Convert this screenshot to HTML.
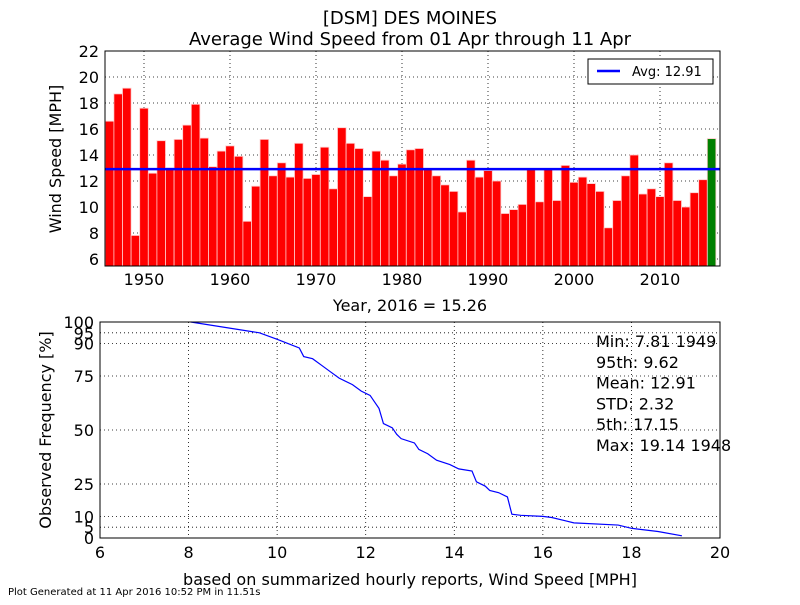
<!DOCTYPE html>
<html><head><meta charset="utf-8"><style>
body{margin:0;background:#fff;}
svg{font-family:"DejaVu Sans","Liberation Sans",sans-serif;}
</style></head><body>
<svg id="s" width="800" height="600" viewBox="0 0 800 600">
<text x="410" y="24" font-size="18" text-anchor="middle">[DSM] DES MOINES</text>
<text x="410" y="45" font-size="18" text-anchor="middle">Average Wind Speed from 01 Apr through 11 Apr</text>
<g id="top"></g><g id="bot"></g>
<text x="8" y="595" font-size="10">Plot Generated at 11 Apr 2016 10:52 PM in 11.51s</text>
</svg>
<script>
const years=[];for(let y=1946;y<=2016;y++)years.push(y);
const speeds=[16.6,18.7,19.14,7.81,17.6,12.6,15.1,13.0,15.2,16.3,17.9,15.3,13.1,14.3,14.7,13.9,8.9,11.6,15.2,12.4,13.4,12.3,14.9,12.2,12.5,14.6,11.4,16.1,14.9,14.5,10.8,14.3,13.6,12.4,13.3,14.4,14.5,12.9,12.4,11.7,11.2,9.62,13.6,12.3,12.8,12.0,9.5,9.8,10.2,12.9,10.4,12.9,10.5,13.2,11.9,12.3,11.8,11.2,8.4,10.5,12.4,14.0,11.0,11.4,10.8,13.4,10.5,10.0,11.1,12.1,15.26];
const avg=12.91;
const yTicks=[6,8,10,12,14,16,18,20,22];
const xTicks=[1950,1960,1970,1980,1990,2000,2010];
const cdfSpeed=[8.05,9.6,10,10.5,10.6,10.8,11,11.2,11.4,11.7,11.9,12.1,12.2,12.3,12.4,12.6,12.7,12.8,13.1,13.2,13.4,13.6,13.9,14.1,14.4,14.5,14.7,14.8,15,15.2,15.3,15.5,16,16.2,16.5,16.7,17.7,18,18.6,19.14];
const cdfFreq=[100,95,92,88,84,83,80,77,74,71,68,66,63,60,53,51,48,46,44,41,39,36,34,32,31,26,24,22,21,19,11,10.5,10,9.5,8,7,6,4.5,3,1];
const fTicks=[0,5,10,25,50,75,90,95,100];
const sTicks=[6,8,10,12,14,16,18,20];
const stats=["Min: 7.81 1949","95th: 9.62","Mean: 12.91","STD: 2.32","5th: 17.15","Max: 19.14 1948"];
const NS="http://www.w3.org/2000/svg";
function mk(p,t,a){const e=document.createElementNS(NS,t);for(const k in a)e.setAttribute(k,a[k]);p.appendChild(e);return e;}
// top chart
const T=document.getElementById('top');
const L=105,R=720,TT=51,TB=266;
const xs=y=>144+(y-1950)*8.6, ys=v=>259-(v-6)*13;
xTicks.forEach(t=>{const g=mk(T,'line',{x1:xs(t),x2:xs(t),y1:TT,y2:TB,stroke:'#000','stroke-dasharray':'1,3','stroke-width':0.8});
const tx=mk(T,'text',{x:xs(t),y:285,'font-size':16,'text-anchor':'middle'});tx.textContent=t;});
yTicks.forEach(t=>{const g=mk(T,'line',{x1:L,x2:R,y1:ys(t),y2:ys(t),stroke:'#000','stroke-dasharray':'1,3','stroke-width':0.8});
const tx=mk(T,'text',{x:L-6,y:ys(t)+6,'font-size':16,'text-anchor':'end'});tx.textContent=t;});
years.forEach((y,i)=>{const v=speeds[i];const b=mk(T,'rect',{x:xs(y)-4.3,y:ys(v),width:8.6,height:TB-ys(v),fill:y===2016?'#008000':'#f00',stroke:'#fcc','stroke-width':0.8});
});
let al=mk(T,'line',{x1:L,x2:R,y1:ys(avg),y2:ys(avg),stroke:'#00f','stroke-width':2.5});
let fr=mk(T,'rect',{x:L,y:TT,width:R-L,height:TB-TT,fill:'none',stroke:'#000'});
let lg=mk(T,'rect',{x:588,y:59,width:125,height:25,fill:'#fff',stroke:'#000'});
let ll=mk(T,'line',{x1:597,x2:620,y1:71,y2:71,stroke:'#00f','stroke-width':2.5});
let lt=mk(T,'text',{x:632,y:76,'font-size':13});lt.textContent='Avg: 12.91';
let yl=mk(T,'text',{x:0,y:0,'font-size':16,'text-anchor':'middle',transform:'translate(61,159) rotate(-90)'});yl.textContent='Wind Speed [MPH]';
let xl=mk(T,'text',{x:410,y:311,'font-size':16,'text-anchor':'middle'});xl.textContent='Year, 2016 = 15.26';
// bottom chart
const B=document.getElementById('bot');
const BL=100,BR=720,BT=322,BB=538;
const bx=v=>BL+(v-6)*(BR-BL)/14, by=p=>BB-p*(BB-BT)/100;
sTicks.forEach(t=>{const g=mk(B,'line',{x1:bx(t),x2:bx(t),y1:BT,y2:BB,stroke:'#000','stroke-dasharray':'1,3','stroke-width':0.8});
const tx=mk(B,'text',{x:bx(t),y:558,'font-size':16,'text-anchor':'middle'});tx.textContent=t;});
fTicks.forEach(t=>{const g=mk(B,'line',{x1:BL,x2:BR,y1:by(t),y2:by(t),stroke:'#000','stroke-dasharray':'1,3','stroke-width':0.8});
const tx=mk(B,'text',{x:BL-6,y:by(t)+6,'font-size':16,'text-anchor':'end'});tx.textContent=t;});
let pl=mk(B,'polyline',{points:cdfSpeed.map((s,i)=>bx(s)+','+by(cdfFreq[i])).join(' '),fill:'none',stroke:'#00f','stroke-width':1.2});
let bf=mk(B,'rect',{x:BL,y:BT,width:BR-BL,height:BB-BT,fill:'none',stroke:'#000'});
stats.forEach((s,i)=>{const tx=mk(B,'text',{x:596,y:347+i*20.8,'font-size':16});tx.textContent=s;});
let byl=mk(B,'text',{x:0,y:0,'font-size':16,'text-anchor':'middle',transform:'translate(51,430) rotate(-90)'});byl.textContent='Observed Frequency [%]';
let bxl=mk(B,'text',{x:410,y:585,'font-size':16,'text-anchor':'middle'});bxl.textContent='based on summarized hourly reports, Wind Speed [MPH]';
</script>
</body></html>
